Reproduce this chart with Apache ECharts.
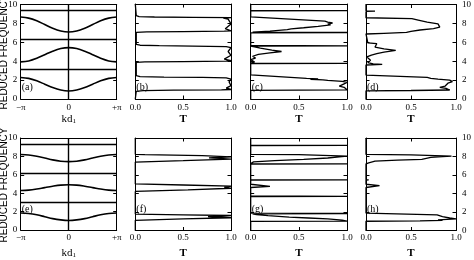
<!DOCTYPE html>
<html><head><meta charset="utf-8">
<script src="https://cdn.jsdelivr.net/npm/echarts@6/dist/echarts.min.js"></script>
<style>html,body{margin:0;padding:0;background:#fff}#c{width:474px;height:260px}</style>
</head><body><div id="c"></div>
<script>
// ---- data ----
const kd = [-3.14, -2.62, -2.09, -1.57, -1.05, -0.52, 0, 0.52, 1.05, 1.57, 2.09, 2.62, 3.14];
const bandA1 = [2.28, 2.18, 1.92, 1.57, 1.21, 0.95, 0.85, 0.95, 1.21, 1.57, 1.92, 2.18, 2.28];
const bandA2 = [3.93, 4.03, 4.31, 4.69, 5.06, 5.34, 5.44, 5.34, 5.06, 4.69, 4.31, 4.03, 3.93];
const bandA3 = [8.67, 8.56, 8.28, 7.88, 7.49, 7.20, 7.09, 7.20, 7.49, 7.88, 8.28, 8.56, 8.67];
const bandE1 = [1.85, 1.79, 1.65, 1.45, 1.24, 1.10, 1.04, 1.10, 1.24, 1.45, 1.65, 1.79, 1.85];
const bandE2 = [4.29, 4.33, 4.45, 4.61, 4.76, 4.88, 4.92, 4.88, 4.76, 4.61, 4.45, 4.33, 4.29];
const bandE3 = [8.20, 8.15, 8.01, 7.82, 7.62, 7.48, 7.43, 7.48, 7.62, 7.82, 8.01, 8.15, 8.20];
const gapLinesTop = [3.12, 6.28, 9.44];
const gapLinesBottom = [2.98, 6.19, 9.37];

// transmission: [frequency, T]
const transB = [[0,0],[0.8,0.01],[0.88,0.08],[0.93,0.4],[0.97,0.9],[1.0,1],[1.15,0.95],[1.4,1],[1.8,0.98],[2.1,1],[2.22,0.95],[2.27,0.7],[2.31,0.3],[2.36,0.05],[2.45,0.01],[3.85,0.01],[3.9,0.1],[3.94,0.5],[3.98,0.95],[4.03,1],[4.2,0.93],[4.6,1],[5.0,0.97],[5.4,1],[5.52,0.95],[5.57,0.6],[5.61,0.25],[5.66,0.05],[5.76,0.01],[7.02,0.01],[7.06,0.12],[7.1,0.5],[7.14,0.93],[7.18,1],[7.4,0.94],[7.9,1],[8.4,0.97],[8.52,0.92],[8.56,1],[8.59,0.6],[8.63,0.2],[8.68,0.04],[8.78,0.01],[10,0]];
const transC = [[0,0],[0.9,0],[0.93,0.5],[0.97,1],[1.1,1],[1.23,0.97],[1.35,0.92],[1.47,0.9],[1.6,0.97],[1.75,1],[1.85,0.95],[1.95,0.8],[2.02,0.75],[2.08,0.62],[2.12,0.7],[2.18,0.58],[2.55,0],[3.72,0],[3.75,1],[3.78,0],[3.9,0.04],[4.0,0.02],[4.15,0],[4.3,0.05],[4.5,0.02],[4.7,0.08],[4.85,0.2],[5.0,0.32],[5.15,0.22],[5.35,0.1],[5.5,0.04],[5.57,0],[5.6,1],[5.63,0],[6.97,0],[7.0,1],[7.03,0.02],[7.15,0.2],[7.3,0.38],[7.38,0.42],[7.5,0.55],[7.65,0.7],[7.8,0.83],[7.9,0.8],[8.0,0.85],[8.1,0.8],[8.2,0.77],[8.65,0],[9.27,0],[9.3,1],[9.33,0],[10,0]];
const transD = [[0,0],[0.86,0],[0.9,0.5],[0.95,0.93],[1.05,0.92],[1.12,0.89],[1.23,0.82],[1.37,0.88],[1.5,0.9],[1.67,0.91],[1.84,0.96],[2.0,0.93],[2.1,0.8],[2.18,0.72],[2.28,0.68],[2.53,0],[3.6,0],[3.66,0.18],[3.72,0.08],[3.85,0.02],[3.95,0.01],[4.1,0.05],[4.2,0.07],[4.3,0.03],[4.45,0.01],[4.65,0.06],[4.8,0.12],[4.95,0.2],[5.15,0.33],[5.3,0.2],[5.5,0.1],[5.7,0.08],[5.85,0.12],[5.92,0.14],[5.95,0.02],[6.0,0],[6.88,0],[6.95,0.2],[7.05,0.45],[7.15,0.5],[7.3,0.6],[7.45,0.75],[7.6,0.82],[7.7,0.8],[7.8,0.83],[7.95,0.8],[8.14,0.68],[8.35,0.58],[8.5,0.51],[8.6,0],[9.27,0],[9.3,0.1],[9.33,0],[10,0]];
const transF = [[0,0],[1.1,0],[1.25,0.5],[1.38,1],[1.45,0.85],[1.5,0.76],[1.55,0.9],[1.62,1],[1.7,0.5],[1.78,0],[4.22,0],[4.4,0.55],[4.57,1],[4.65,0.93],[4.72,0.97],[4.8,1],[4.92,0.5],[5.03,0],[7.4,0],[7.55,0.5],[7.72,1],[7.8,0.88],[7.86,0.77],[7.92,0.9],[7.97,1],[8.1,0.7],[8.2,0.1],[8.23,0],[10,0]];
const transG = [[0,0],[0.98,0],[1.02,1],[1.12,0.95],[1.25,0.8],[1.35,0.6],[1.45,0.4],[1.6,0.18],[1.72,0.06],[1.8,0.02],[1.84,1],[1.88,0],[3.67,0],[3.7,1],[3.73,0],[4.65,0],[4.78,0.2],[5.0,0],[5.45,0],[5.48,1],[5.51,0],[7.18,0],[7.21,1],[7.24,0],[7.3,0.01],[7.42,0.03],[7.55,0.25],[7.7,0.55],[7.84,0.8],[7.95,0.92],[8.05,1],[8.15,1],[8.2,0.5],[8.23,0],[9.17,0],[9.2,1],[9.23,0],[10,0]];
const transH = [[0,0],[1.0,0],[1.05,0.6],[1.1,0.85],[1.15,0.8],[1.25,1],[1.35,0.93],[1.5,0.85],[1.68,0.79],[1.88,0],[4.65,0],[4.85,0.15],[5.0,0],[5.46,0],[5.48,0.03],[5.5,0],[7.2,0],[7.32,0.03],[7.5,0.1],[7.6,0.35],[7.7,0.62],[7.8,0.67],[7.9,0.72],[7.98,0.85],[8.05,0.95],[8.12,0.95],[8.18,0.5],[8.22,0],[10,0]];
const panelLabels = ['(a)','(b)','(c)','(d)','(e)','(f)','(g)','(h)'];
const yTitle = 'REDUCED FREQUENCY';

// ---- layout ----
const gridPos = [
  [20.7, 4, 96, 95], [135.3, 4, 95.7, 95], [250.7, 4, 96.3, 95], [366, 4, 94.7, 95],
  [20.7, 138, 96, 94.5], [135.3, 138, 95.7, 94.5], [250.7, 138, 96.3, 94.5], [366, 138, 94.7, 94.5]
];
const serif = 'Liberation Serif';
const axLine = {show: true, onZero: false, lineStyle: {color: '#000', width: 1}};
const axTick = {show: true, inside: true, length: 3.5, lineStyle: {color: '#000', width: 1}};
const fmtK = v => v < -1 ? '\u2212\u03c0' : (v > 1 ? '+\u03c0' : '0');

const xAxis = [], yAxis = [];
gridPos.forEach((g, i) => {
  const band = (i % 4 === 0);
  const row = i < 4 ? 0 : 1;
  const base = band ? {type: 'value', min: -Math.PI, max: Math.PI, interval: Math.PI}
                    : {type: 'value', min: 0, max: 1, interval: 0.5};
  xAxis.push(Object.assign({}, base, {
    gridIndex: i, position: 'bottom', axisLine: axLine, axisTick: axTick, splitLine: {show: false},
    axisLabel: {show: true, margin: row ? 3 : 4.5, fontFamily: serif, fontSize: 9, color: '#000',
      showMinLabel: true, showMaxLabel: true, formatter: band ? fmtK : (v => v.toFixed(1))},
    name: band ? 'kd{s|1}' : 'T', nameLocation: 'middle',
    nameGap: band ? (row ? 17 : 13) : (row ? 17.5 : 14),
    nameTextStyle: band
      ? {fontFamily: serif, fontSize: 11, color: '#000', rich: {s: {fontFamily: serif, fontSize: 7, color: '#000', padding: [5, 0, 0, 0]}}}
      : {fontFamily: serif, fontSize: 11, fontWeight: 'bold', color: '#000'}
  }));
  xAxis.push(Object.assign({}, base, {
    gridIndex: i, position: 'top', axisLine: axLine, axisTick: axTick, splitLine: {show: false},
    axisLabel: {show: false}
  }));
  const yBase = {type: 'value', min: 0, max: 10, interval: 2, gridIndex: i, axisLine: axLine, axisTick: axTick, splitLine: {show: false}};
  yAxis.push(Object.assign({}, yBase, {position: 'left',
    axisLabel: {show: i % 4 === 0, margin: 3.5, fontFamily: serif, fontSize: 9, color: '#000', showMinLabel: true, showMaxLabel: true}}));
  yAxis.push(Object.assign({}, yBase, {position: 'right',
    axisLabel: {show: i % 4 === 3, margin: 6, fontFamily: serif, fontSize: 9, color: '#000', showMinLabel: true, showMaxLabel: true}}));
});

const series = [];
[[[bandA1, bandA2, bandA3], 0, gapLinesTop], [[bandE1, bandE2, bandE3], 4, gapLinesBottom]].forEach(([bands, g, gaps]) => {
  bands.forEach((b, j) => {
    const s = {type: 'line', xAxisIndex: 2 * g, yAxisIndex: 2 * g, data: kd.map((k, n) => [k, b[n]]),
      smooth: 0.35, showSymbol: false, silent: true, lineStyle: {color: '#000', width: 1.6}};
    if (j === 0) s.markLine = {symbol: 'none', silent: true, animation: false, label: {show: false},
      lineStyle: {color: '#000', width: 1.4, type: 'solid'},
      data: gaps.map(v => ({yAxis: v})).concat([{xAxis: 0}])};
    series.push(s);
  });
});
[[transB, 1], [transC, 2], [transD, 3], [transF, 5], [transG, 6], [transH, 7]].forEach(([d, g]) => {
  series.push({type: 'line', xAxisIndex: 2 * g, yAxisIndex: 2 * g, data: d.map(p => [p[1], p[0]]),
    showSymbol: false, silent: true, lineStyle: {color: '#000', width: 1.3}});
});

const graphic = panelLabels.map((t, i) => ({type: 'text', left: gridPos[i][0] + 1, top: i < 4 ? 82 : 204,
  style: {text: t, font: '10px "Liberation Serif"', fill: '#000'}}));
[52, 185].forEach(cy => graphic.push({type: 'text', x: 4.5, y: cy, rotation: Math.PI / 2,
  style: {text: yTitle, font: '10px "Liberation Sans"', fill: '#000', align: 'center', verticalAlign: 'middle', textAlign: 'center', textVerticalAlign: 'middle'}}));

const chart = echarts.init(document.getElementById('c'), null, {renderer: 'canvas'});
chart.setOption({animation: false, backgroundColor: '#fff',
  grid: gridPos.map(([l, t, w, h]) => ({left: l, top: t, width: w, height: h, show: false})),
  xAxis, yAxis, series, graphic});
</script></body></html>
